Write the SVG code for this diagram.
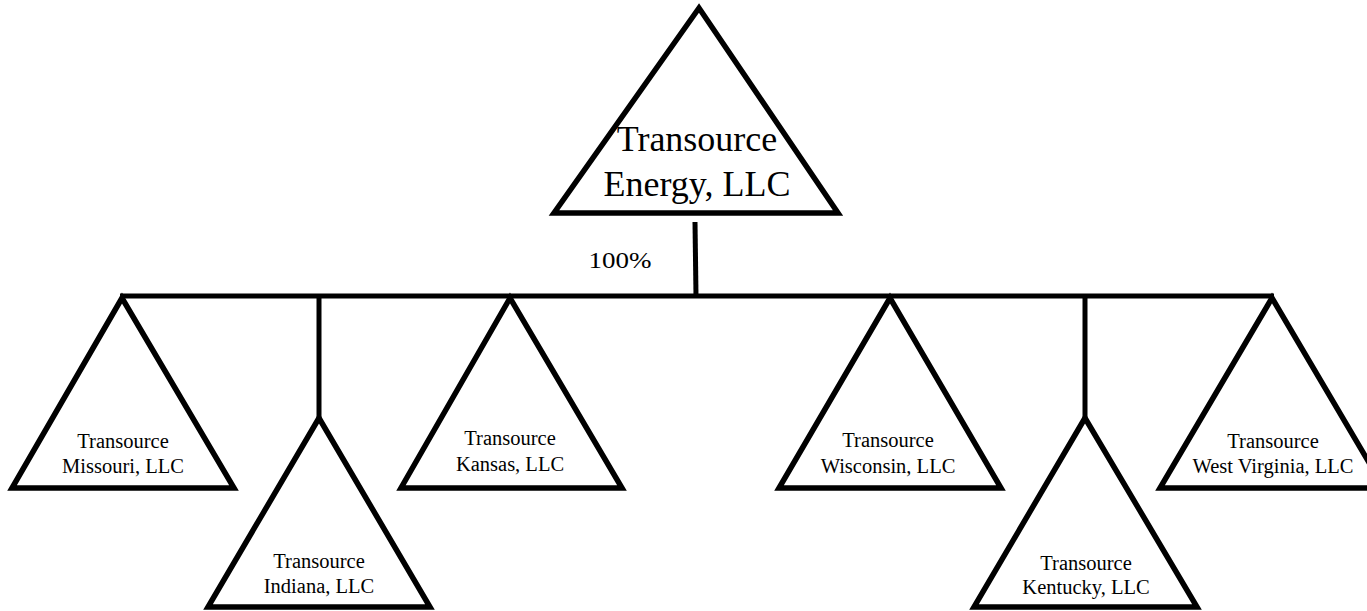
<svg xmlns="http://www.w3.org/2000/svg" width="1367" height="611" viewBox="0 0 1367 611">
<style>
.tri{fill:#fff;stroke:#000;stroke-width:5.5;stroke-linejoin:miter}
.ln{stroke:#000;stroke-width:5;fill:none}
text{font-family:"Liberation Serif","Times New Roman",serif;fill:#000;text-anchor:middle}
.s{font-size:20.5px}
.b{font-size:36px}
</style>
<rect width="1367" height="611" fill="#fff"/>
<g id="connectors">
<line class="ln" x1="695" y1="222" x2="696" y2="296"/>
<line class="ln" x1="120" y1="296" x2="1274" y2="296"/>
<line class="ln" x1="319" y1="296" x2="319" y2="418"/>
<line class="ln" x1="1085" y1="296" x2="1085" y2="418"/>
<text x="620" y="268" style="font-size:23px" textLength="63" lengthAdjust="spacingAndGlyphs">100%</text>
</g>
<g id="energy">
<polygon class="tri" points="699,8 554,213 838,213"/>
<text class="b" x="697" y="151">Transource</text>
<text class="b" x="697" y="196">Energy, LLC</text>
</g>
<g id="missouri">
<polygon class="tri" points="122,298 12,488 234,488"/>
<text class="s" x="123" y="448">Transource</text>
<text class="s" x="123" y="473">Missouri, LLC</text>
</g>
<g id="indiana">
<polygon class="tri" points="319,418 208,607 430,607"/>
<text class="s" x="319" y="568">Transource</text>
<text class="s" x="319" y="593">Indiana, LLC</text>
</g>
<g id="kansas">
<polygon class="tri" points="510,298 401,488 622,488"/>
<text class="s" x="510" y="445">Transource</text>
<text class="s" x="510" y="471">Kansas, LLC</text>
</g>
<g id="wisconsin">
<polygon class="tri" points="890,298 779,488 1001,488"/>
<text class="s" x="888" y="447">Transource</text>
<text class="s" x="888" y="473">Wisconsin, LLC</text>
</g>
<g id="kentucky">
<polygon class="tri" points="1085,418 974,607 1197,607"/>
<text class="s" x="1086" y="570">Transource</text>
<text class="s" x="1086" y="594">Kentucky, LLC</text>
</g>
<g id="westvirginia">
<polygon class="tri" points="1272,298 1160,488 1384,488"/>
<text class="s" x="1273" y="448">Transource</text>
<text class="s" x="1273" y="473">West Virginia, LLC</text>
</g>
</svg>
